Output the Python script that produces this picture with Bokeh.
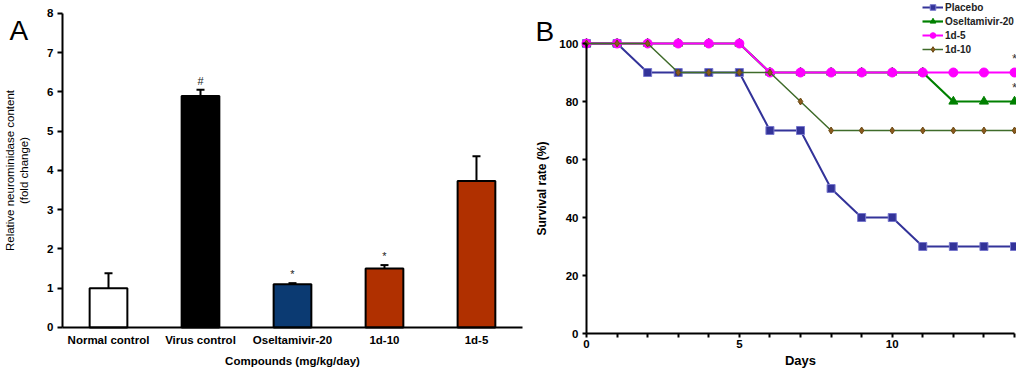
from bokeh.plotting import figure
from bokeh.layouts import row
from bokeh.models import (ColumnDataSource, Whisker, TeeHead, Legend, LegendItem,
                          Range1d, FixedTicker)
from bokeh.core.properties import value
from bokeh.embed import file_html
from bokeh.resources import INLINE

FONT = "Liberation Sans"

# ---------------- Panel A data ----------------
compounds = ["Normal control", "Virus control", "Oseltamivir-20", "1d-10", "1d-5"]
content = [1.0, 5.9, 1.1, 1.5, 3.73]
content_err = [0.38, 0.16, 0.03, 0.09, 0.63]
sig_marks = ["", "#", "*", "*", ""]
bar_colors = ["#FFFFFF", "#000000", "#0B3A72", "#B03000", "#B03000"]
y_ticks_a = [0, 1, 2, 3, 4, 5, 6, 7, 8]

# ---------------- Panel B data ----------------
days = list(range(15))
placebo = [100, 100, 90, 90, 90, 90, 70, 70, 50, 40, 40, 30, 30, 30, 30]
oseltamivir = [100, 100, 100, 100, 100, 100, 90, 90, 90, 90, 90, 90, 80, 80, 80]
d1_5 = [100, 100, 100, 100, 100, 100, 90, 90, 90, 90, 90, 90, 90, 90, 90]
d1_10 = [100, 100, 100, 90, 90, 90, 90, 80, 70, 70, 70, 70, 70, 70, 70]
y_ticks_b = [0, 20, 40, 60, 80, 100]
star_days = [14, 14]
star_y = [95, 85]

H = 372


def no_borders(p):
    p.min_border = 0
    p.min_border_left = 0
    p.min_border_right = 0
    p.min_border_top = 0
    p.min_border_bottom = 0
    p.outline_line_color = None
    p.grid.grid_line_color = None


def black_axes(p):
    for ax in (p.xaxis, p.yaxis):
        ax.axis_label_text_color = "black"
        ax.major_label_text_color = "black"
        ax.axis_line_color = "black"
        ax.major_tick_line_color = "black"


# ================= Figure A =================
xpos = list(range(len(compounds)))
pa = figure(width=532, height=H, x_range=Range1d(-1.174, 4.609),
            y_range=Range1d(-(H - 327) / 39.25, 8.331), output_backend="svg",
            toolbar_location=None)
no_borders(pa)
black_axes(pa)
srcA = ColumnDataSource(dict(x=xpos, top=content,
                             upper=[v + e for v, e in zip(content, content_err)],
                             mark=sig_marks, color=bar_colors))
pa.vbar(x="x", top="top", width=0.41, source=srcA, fill_color="color",
        line_color="black", line_width=2)
wh = Whisker(source=srcA, base="x", lower="top", upper="upper", line_color="black",
             line_width=2, lower_head=None,
             upper_head=TeeHead(size=8, line_width=2, line_color="black"))
pa.add_layout(wh)
pa.text(x="x", y="upper", text="mark", source=srcA, text_align="center",
        text_baseline="bottom", y_offset=-3, text_font=value(FONT),
        text_font_size="11px", text_color="#222222")
pa.text(x=[-1.076], y=[7.567], text=["A"], text_align="left", text_baseline="alphabetic",
        text_font=value(FONT), text_font_size="28px", text_color="black")

pa.yaxis.fixed_location = -0.5
pa.yaxis.bounds = (0, 8)
pa.yaxis.ticker = FixedTicker(ticks=y_ticks_a)
pa.yaxis.axis_label = "Relative neurominidase content\n(fold change)"
pa.yaxis.axis_label_text_font = FONT
pa.yaxis.axis_label_text_font_style = "normal"
pa.yaxis.axis_label_text_font_size = "11.5px"
pa.yaxis.axis_label_standoff = 14
pa.yaxis.major_label_text_font = FONT
pa.yaxis.major_label_text_font_style = "bold"
pa.yaxis.major_label_text_font_size = "11.5px"
pa.yaxis.major_tick_out = 5
pa.yaxis.major_tick_in = 0
pa.yaxis.minor_tick_line_color = None
pa.yaxis.major_tick_line_width = 2
pa.yaxis.axis_line_width = 2
pa.yaxis.major_label_standoff = 4

pa.xaxis.fixed_location = 0
pa.xaxis.bounds = (-0.5, 4.5)
pa.xaxis.ticker = FixedTicker(ticks=xpos)
pa.xaxis.major_label_overrides = {i: c for i, c in zip(xpos, compounds)}
pa.xaxis.axis_label = "Compounds (mg/kg/day)"
pa.xaxis.axis_label_text_font = FONT
pa.xaxis.axis_label_text_font_style = "bold"
pa.xaxis.axis_label_text_font_size = "11.5px"
pa.xaxis.axis_label_standoff = 5
pa.xaxis.major_label_text_font = FONT
pa.xaxis.major_label_text_font_style = "bold"
pa.xaxis.major_label_text_font_size = "11.5px"
pa.xaxis.major_tick_line_color = None
pa.xaxis.major_tick_out = 0
pa.xaxis.major_tick_in = 0
pa.xaxis.minor_tick_line_color = None
pa.xaxis.major_label_standoff = 7
pa.xaxis.axis_line_width = 2

# ================= Figure B =================
pb = figure(width=484, height=H, x_range=Range1d(-1.766, 14.065),
            y_range=Range1d(-(H - 333) / 2.9, 114.83), output_backend="svg",
            toolbar_location=None)
no_borders(pb)
black_axes(pb)

r_pl = pb.line(days, placebo, line_color="#333399", line_width=2)
m_pl = pb.scatter(days, placebo, marker="square", size=8, fill_color="#333399",
                  line_color="#7777cc", line_width=1)
r_os = pb.line(days, oseltamivir, line_color="#008000", line_width=2.2)
m_os = pb.scatter(days, oseltamivir, marker="triangle", size=9, fill_color="#008000",
                  line_color="#008000")
r_15 = pb.line(days, d1_5, line_color="#FF00FF", line_width=2)
m_15 = pb.scatter(days, d1_5, marker="circle", size=9, fill_color="#FF00FF",
                  line_color="#FF00FF")
r_110 = pb.line(days, d1_10, line_color="#3F6B2A", line_width=1.5)
m_110 = pb.scatter(days, d1_10, marker="diamond", size=7, fill_color="#8B5A1E",
                   line_color="#6B4A14")
pb.text(star_days, star_y, text=["*", "*"], text_align="center", text_baseline="middle",
        text_font=value(FONT), text_font_size="13px", text_color="#333333")
pb.text(x=[-1.668], y=[104.1], text=["B"], text_align="left", text_baseline="alphabetic",
        text_font=value(FONT), text_font_size="28px", text_color="black")

legend = Legend(items=[
    LegendItem(label="Placebo", renderers=[r_pl, m_pl]),
    LegendItem(label="Oseltamivir-20", renderers=[r_os, m_os]),
    LegendItem(label="1d-5", renderers=[r_15, m_15]),
    LegendItem(label="1d-10", renderers=[r_110, m_110]),
], location=(390, H - 56))
legend.border_line_color = None
legend.background_fill_alpha = 0
legend.label_text_font = FONT
legend.label_text_font_style = "bold"
legend.label_text_font_size = "10px"
legend.label_text_color = "#222222"
legend.glyph_width = 21
legend.glyph_height = 14
legend.label_height = 14
legend.label_standoff = 2
legend.spacing = 0
legend.padding = 0
legend.margin = 0
pb.add_layout(legend)

pb.xaxis.fixed_location = 0
pb.xaxis.bounds = (0, 14)
pb.xaxis.ticker = FixedTicker(ticks=days)
pb.xaxis.major_label_overrides = {d: (str(d) if d % 5 == 0 else "") for d in days}
pb.xaxis.axis_label = "Days"
pb.xaxis.axis_label_text_font = FONT
pb.xaxis.axis_label_text_font_style = "bold"
pb.xaxis.axis_label_text_font_size = "13px"
pb.xaxis.axis_label_standoff = 2
pb.xaxis.major_label_text_font = FONT
pb.xaxis.major_label_text_font_style = "bold"
pb.xaxis.major_label_text_font_size = "11.5px"
pb.xaxis.major_label_standoff = 2
pb.xaxis.major_tick_out = 4
pb.xaxis.major_tick_in = 0
pb.xaxis.major_tick_line_width = 2
pb.xaxis.minor_tick_line_color = None
pb.xaxis.axis_line_width = 2

pb.yaxis.fixed_location = 0
pb.yaxis.bounds = (0, 100)
pb.yaxis.ticker = FixedTicker(ticks=y_ticks_b)
pb.yaxis.axis_label = "Survival rate (%)"
pb.yaxis.axis_label_text_font = FONT
pb.yaxis.axis_label_text_font_style = "bold"
pb.yaxis.axis_label_text_font_size = "12px"
pb.yaxis.axis_label_standoff = 7
pb.yaxis.major_label_text_font = FONT
pb.yaxis.major_label_text_font_style = "bold"
pb.yaxis.major_label_text_font_size = "11.5px"
pb.yaxis.major_label_standoff = 4
pb.yaxis.major_tick_out = 4
pb.yaxis.major_tick_in = 0
pb.yaxis.major_tick_line_width = 2
pb.yaxis.minor_tick_line_color = None
pb.yaxis.axis_line_width = 2

layout = row(pa, pb)
open("out.html", "w").write(file_html(layout, INLINE))
